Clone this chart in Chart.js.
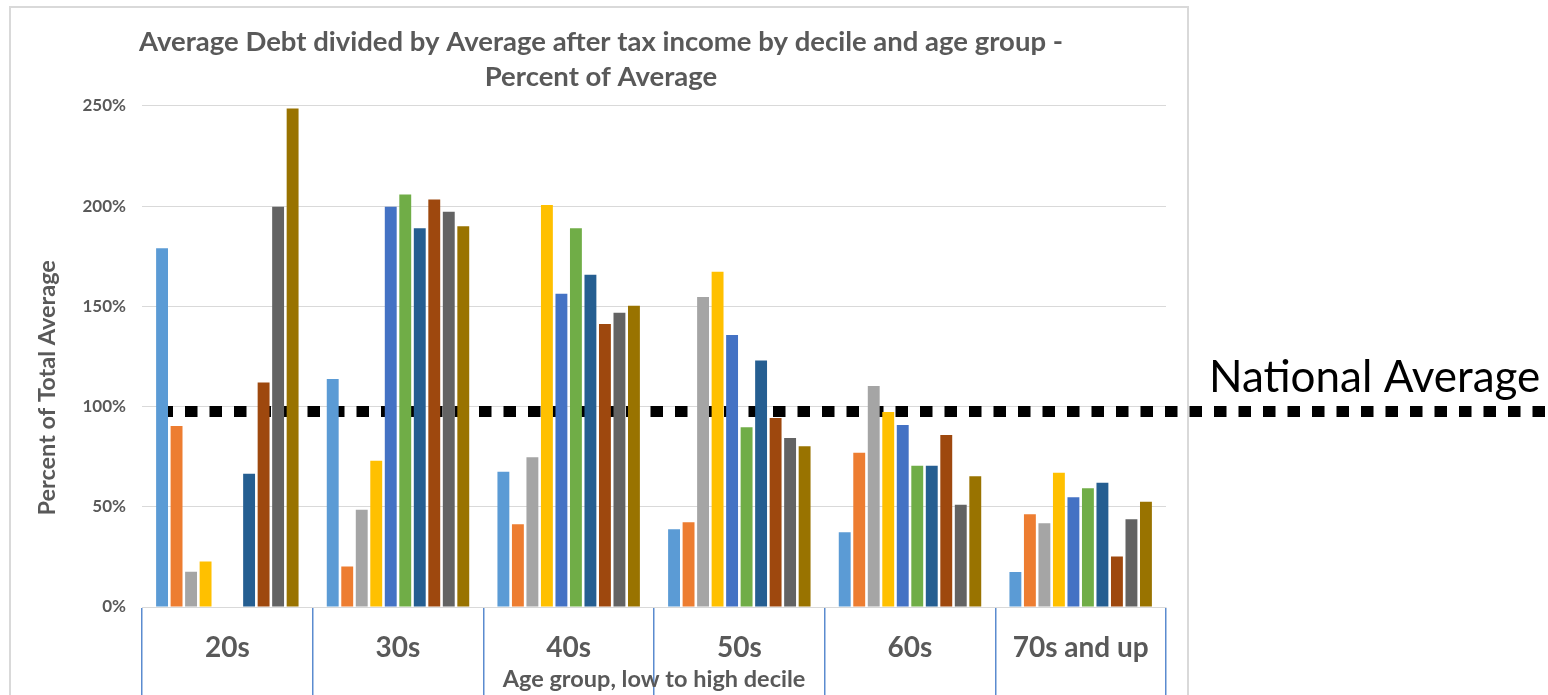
<!DOCTYPE html>
<html>
<head>
<meta charset="utf-8">
<script src="https://cdn.jsdelivr.net/npm/chart.js@4.4.1/dist/chart.umd.min.js"></script>
<style>
  html, body { margin: 0; padding: 0; overflow: hidden; background: #ffffff; }
  #wrap { position: relative; width: 1548px; height: 695px; overflow: hidden; }
  #frame { position: absolute; left: 9px; top: 6px; width: 1176px; height: 800px; border: 2px solid #D9D9D9; box-sizing: content-box; }
  #c { position: absolute; left: 0; top: 0; }
</style>
</head>
<body>
<div id="wrap">
  <div id="frame"></div>
  <canvas id="c" width="1548" height="695"></canvas>
</div>
<script>
const categories = ['20s', '30s', '40s', '50s', '60s', '70s and up'];
const decileNames = ['Decile 1', 'Decile 2', 'Decile 3', 'Decile 4', 'Decile 5', 'Decile 6', 'Decile 7', 'Decile 8', 'Decile 9', 'Decile 10'];
const decile1 = [179, 113.8, 67.5, 38.8, 37.3, 17.5];
const decile2 = [90.3, 20.2, 41.3, 42.3, 77, 46.3];
const decile3 = [17.6, 48.5, 74.7, 154.7, 110.3, 41.8];
const decile4 = [22.7, 73, 200.5, 167.3, 97.3, 67];
const decile5 = [null, 199.7, 156.3, 135.7, 90.8, 54.8];
const decile6 = [null, 205.8, 189, 89.7, 70.5, 59.3];
const decile7 = [66.5, 189, 165.8, 123, 70.5, 62];
const decile8 = [112, 203.3, 141.2, 94.3, 85.8, 25.2];
const decile9 = [199.7, 197.2, 146.8, 84.3, 51, 43.8];
const decile10 = [248.7, 190, 150.3, 80.2, 65.2, 52.5];
const yTickValues = [0, 50, 100, 150, 200, 250];
const nationalAverage = 97.5;
const nationalAverageLabel = 'National Average';
const chartTitle = ['Average Debt divided by Average after tax income by decile and age group -', 'Percent of Average'];
const xAxisTitle = 'Age group, low to high decile';
const yAxisTitle = 'Percent of Total Average';

const series = [decile1, decile2, decile3, decile4, decile5, decile6, decile7, decile8, decile9, decile10];
const colors = ['#5B9BD5', '#ED7D31', '#A5A5A5', '#FFC000', '#4472C4', '#70AD47', '#255E91', '#9E480E', '#636363', '#997300'];

const TEXT = '#595959';
const FONT = 'Lato, "Open Sans", sans-serif';

const nationalAveragePlugin = {
  id: 'nationalAverage',
  beforeDatasetsDraw(chart) {
    const y = chart.scales.y.getPixelForValue(nationalAverage);
    const ctx = chart.ctx;
    ctx.save();
    ctx.strokeStyle = '#000000';
    ctx.lineWidth = 11;
    ctx.lineCap = 'butt';
    ctx.setLineDash([12.5, 12]);
    ctx.lineDashOffset = 18;
    ctx.beginPath();
    ctx.moveTo(chart.chartArea.left + 12, y);
    ctx.lineTo(chart.width, y);
    ctx.stroke();
    ctx.restore();
  },
  afterDraw(chart) {
    const y = chart.scales.y.getPixelForValue(nationalAverage);
    const ctx = chart.ctx;
    ctx.save();
    ctx.fillStyle = '#000000';
    ctx.font = '44px ' + FONT;
    ctx.textAlign = 'left';
    ctx.textBaseline = 'alphabetic';
    ctx.fillText(nationalAverageLabel, chart.chartArea.right + 43, y - 20);
    ctx.restore();
  }
};

new Chart(document.getElementById('c'), {
  type: 'bar',
  data: {
    labels: categories,
    datasets: series.map((d, i) => ({
      label: decileNames[i],
      data: d,
      backgroundColor: colors[i],
      borderWidth: 0,
      categoryPercentage: 0.85,
      barPercentage: 0.82
    }))
  },
  options: {
    responsive: false,
    animation: false,
    layout: { padding: { left: 36, right: 382, top: 0, bottom: 0 } },
    plugins: {
      legend: { display: false },
      tooltip: { enabled: false },
      title: {
        display: true,
        text: chartTitle,
        color: TEXT,
        font: { family: FONT, size: 27.5, weight: 'bold', lineHeight: 1.27 },
        padding: { top: 24.5, bottom: 11.5 }
      }
    },
    scales: {
      x: {
        grid: {
          display: true,
          offset: true,
          drawOnChartArea: false,
          drawTicks: true,
          tickLength: 88,
          color: '#5B8BCF',
          lineWidth: 1.5
        },
        border: { display: true, color: '#D9D9D9', width: 1 },
        ticks: {
          color: TEXT,
          font: { family: FONT, size: 28, weight: 'bold' },
          padding: -64,
          maxRotation: 0,
          autoSkip: false
        },
        title: {
          display: true,
          text: xAxisTitle,
          color: TEXT,
          font: { family: FONT, size: 23.5, weight: 'bold', lineHeight: 1.2 },
          padding: { top: 0, bottom: 1 }
        },
        afterFit(scale) { scale.height = 88; }
      },
      y: {
        min: 0,
        max: 250,
        afterBuildTicks(scale) { scale.ticks = yTickValues.map(v => ({ value: v })); },
        grid: { color: '#D9D9D9', lineWidth: 1, drawTicks: false },
        border: { display: false },
        ticks: {
          color: TEXT,
          font: { family: FONT, size: 17, weight: 'bold' },
          padding: 16,
          callback: v => v + '%'
        },
        title: {
          display: true,
          text: yAxisTitle + '\u00A0'.repeat(11),
          color: TEXT,
          font: { family: FONT, size: 23.5, weight: 'bold', lineHeight: 1.0 },
          padding: { top: 0, bottom: 0 }
        },
        afterFit(scale) { scale.width = 106; }
      }
    }
  },
  plugins: [nationalAveragePlugin]
});
</script>
</body>
</html>
